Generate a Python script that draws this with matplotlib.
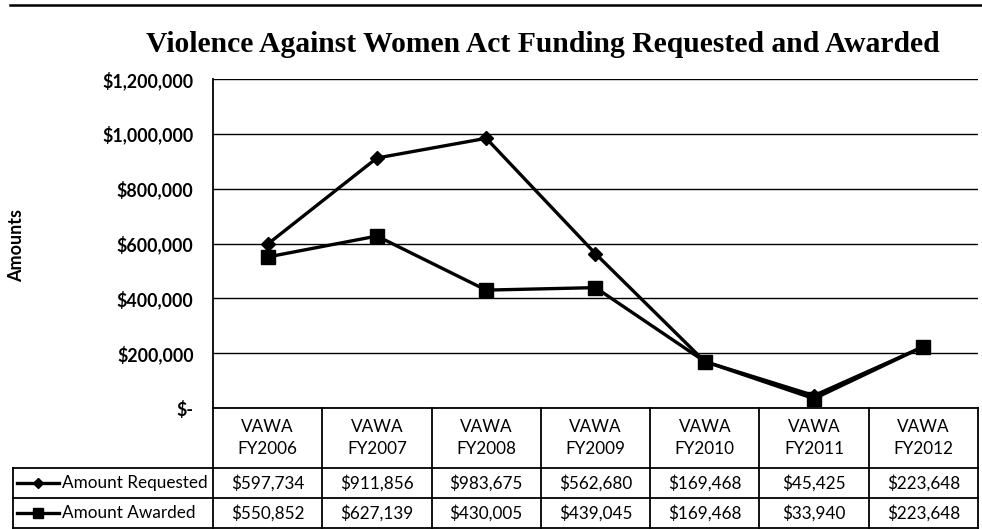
import matplotlib
matplotlib.use("Agg")
import matplotlib.pyplot as plt
from matplotlib.lines import Line2D

# chart data
categories = ["VAWA\nFY2006", "VAWA\nFY2007", "VAWA\nFY2008", "VAWA\nFY2009",
              "VAWA\nFY2010", "VAWA\nFY2011", "VAWA\nFY2012"]
requested = [597734, 911856, 983675, 562680, 169468, 45425, 223648]
awarded = [550852, 627139, 430005, 439045, 169468, 33940, 223648]
series_names = ["Amount Requested", "Amount Awarded"]
y_ticks = [0, 200000, 400000, 600000, 800000, 1000000, 1200000]

W, H = 982, 529
SANS = "Lato"


def money(v):
    return "$-" if v == 0 else "${:,.0f}".format(v)


fig = plt.figure(figsize=(W / 100, H / 100), dpi=100)

# main plot area, pixel box 213..978 x 79..408
ax = fig.add_axes([213 / W, 1 - 408 / H, 765 / W, 329 / H])
x = list(range(len(categories)))
ax.plot(x, requested, color="black", lw=2.4, marker="D", ms=7, zorder=3)
ax.plot(x, awarded, color="black", lw=2.4, marker="s", ms=9.5, zorder=3)
ax.set_xlim(-0.5, len(categories) - 0.5)
ax.set_ylim(0, 1200000)
ax.set_yticks(y_ticks)
ax.set_yticklabels([money(v) for v in y_ticks], fontfamily=SANS,
                   fontweight="bold", fontsize=12.8)
ax.tick_params(axis="y", length=0, pad=14)
ax.set_xticks([])
ax.grid(axis="y", color="black", lw=1)
for s in ["top", "right"]:
    ax.spines[s].set_visible(False)
ax.spines["left"].set_linewidth(1.3)
ax.spines["bottom"].set_linewidth(1.3)
ax.set_axisbelow(True)

fig.text(17 / W, 1 - 245 / H, "Amounts", rotation=90, ha="center",
         va="center", fontfamily=SANS, fontweight="bold", fontsize=13)

fig.text(543 / W, 1 - 45 / H,
         "Violence Against Women Act Funding Requested and Awarded",
         ha="center", va="center", fontfamily="Liberation Serif",
         fontweight="bold", fontsize=21.3)

# top rule
fig.add_artist(Line2D([10 / W, 1], [1 - 5 / H, 1 - 5 / H], color="black",
                      lw=1.8))

# data table under the plot, pixel box 13..978 x 408..528
n = len(categories)
left = -0.5 - 200 / 765 * n
tax = fig.add_axes([13 / W, 1 - 528 / H, 965 / W, 120 / H])
tax.set_xlim(left, n - 0.5)
tax.set_ylim(0, 4)
tax.axis("off")
lk = dict(color="black", lw=1.3, clip_on=False)
for k in range(n + 1):
    tax.plot([k - 0.5, k - 0.5], [0, 4], **lk)
tax.plot([left, left], [0, 2], **lk)
for yy in [0, 1, 2]:
    tax.plot([left, n - 0.5], [yy, yy], **lk)

for i, c in enumerate(categories):
    tax.text(i, 3, c, ha="center", va="center", fontfamily=SANS,
             fontsize=12.3, linespacing=1.45)

rows = [(requested, "D", 5.5, 1.5), (awarded, "s", 7.5, 0.5)]
for (vals, mk, ms, yy), name in zip(rows, series_names):
    gx0 = left + 4 / 765 * n
    gx1 = left + 46 / 765 * n
    tax.plot([gx0, gx1], [yy, yy], color="black", lw=2.4, clip_on=False)
    tax.plot([(gx0 + gx1) / 2], [yy], marker=mk, ms=ms, color="black",
             clip_on=False)
    tax.text(left + 49 / 765 * n, yy, name, ha="left", va="center",
             fontfamily=SANS, fontsize=12.3)
    for i, v in enumerate(vals):
        tax.text(i, yy, money(v), ha="center", va="center",
                 fontfamily=SANS, fontsize=12.3)

fig.savefig("out.png", dpi=100)
